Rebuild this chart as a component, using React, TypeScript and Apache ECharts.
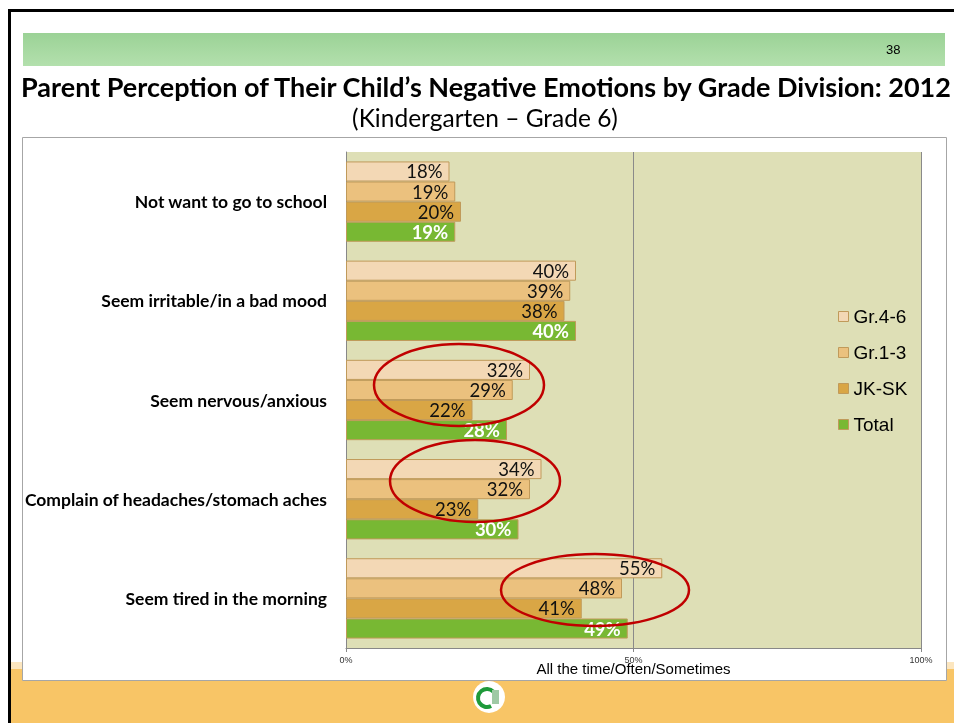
import React, { useEffect, useRef } from "react";
import * as echarts from "echarts";

const categories = [
  "Not want to go to school",
  "Seem irritable/in a bad mood",
  "Seem nervous/anxious",
  "Complain of headaches/stomach aches",
  "Seem tired in the morning",
];
const seriesNames = ["Gr.4-6", "Gr.1-3", "JK-SK", "Total"];
const gr46 = [18, 40, 32, 34, 55];
const gr13 = [19, 39, 29, 32, 48];
const jksk = [20, 38, 22, 23, 41];
const total = [19, 40, 28, 30, 49];
const xTicks = [0, 50, 100];
const colors = ["#F3D8B5", "#EBC17E", "#D9A645", "#78B833"];

export default function App() {
  const ref = useRef<HTMLDivElement>(null);
  useEffect(() => {
    if (!ref.current) return;
    const chart = echarts.init(ref.current, null, { renderer: "svg" });
    const values = [gr46, gr13, jksk, total];
    const series = seriesNames.map((name, i) => ({
      name,
      type: "bar",
      data: values[i],
      barGap: "0%",
      barCategoryGap: "19%",
      itemStyle: { color: colors[i], borderColor: "#C09A5A", borderWidth: 1 },
      label: {
        show: true,
        position: "insideRight",
        distance: 7,
        formatter: "{c}%",
        fontFamily: "Lato",
        fontSize: 18.5,
        lineHeight: 18,
        color: i === 3 ? "#FFFFFF" : "#111111",
        fontWeight: i === 3 ? "bold" : "normal",
      },
    }));
    chart.setOption({
      animation: false,
      textStyle: { fontFamily: "Liberation Sans" },
      grid: {
        left: 346,
        right: 33,
        top: 152,
        bottom: 75,
        show: true,
        backgroundColor: "#DEDFB6",
        borderWidth: 0,
        containLabel: false,
      },
      legend: {
        orient: "vertical",
        left: 833,
        top: 302,
        itemWidth: 10,
        itemHeight: 10,
        itemGap: 17,
        icon: "rect",
        data: seriesNames,
        textStyle: { fontFamily: "Liberation Sans", fontSize: 19, color: "#000" },
        itemStyle: { borderColor: "#C09A5A", borderWidth: 1 },
      },
      xAxis: {
        type: "value",
        min: 0,
        max: 100,
        interval: 50,
        name: "All the time/Often/Sometimes",
        nameLocation: "middle",
        nameGap: 13,
        nameMoveOverlap: false,
        nameTextStyle: { fontFamily: "Liberation Sans", fontSize: 15, color: "#000" },
        axisLine: { show: true, lineStyle: { color: "#888888", width: 1 } },
        axisTick: { show: true, length: 4, lineStyle: { color: "#888888" } },
        axisLabel: {
          formatter: (v: number) => (xTicks.includes(v) ? v + "%" : ""),
          fontSize: 9,
          color: "#333",
          margin: 7,
        },
        splitLine: { show: true, lineStyle: { color: "#8A8A8A", width: 1 } },
      },
      yAxis: {
        type: "category",
        data: categories,
        inverse: true,
        axisLine: { show: true, lineStyle: { color: "#888888" } },
        axisTick: { show: false },
        axisLabel: {
          fontFamily: "Lato",
          fontWeight: "bold",
          fontSize: 17.5,
          color: "#000",
          margin: 19,
        },
      },
      graphic: [
        { type: "rect", z: -20, shape: { x: 0, y: 0, width: 954, height: 723 }, style: { fill: "#FFFFFF" } },
        { type: "rect", z: -19, shape: { x: 10, y: 662, width: 944, height: 8 }, style: { fill: "#FCE6BF" } },
        { type: "rect", z: -19, shape: { x: 10, y: 669, width: 944, height: 54 }, style: { fill: "#F8C566" } },
        { type: "rect", z: -18, shape: { x: 8, y: 9, width: 3, height: 714 }, style: { fill: "#000" } },
        { type: "rect", z: -18, shape: { x: 8, y: 9, width: 946, height: 3 }, style: { fill: "#000" } },
        {
          type: "rect",
          z: -18,
          shape: { x: 23, y: 33, width: 922, height: 33 },
          style: {
            fill: new echarts.graphic.LinearGradient(0, 0, 0, 1, [
              { offset: 0, color: "#9BD296" },
              { offset: 1, color: "#B3E0AD" },
            ]),
          },
        },
        { type: "text", z: -17, x: 886, y: 43, style: { text: "38", fontFamily: "Liberation Sans", fontSize: 13, fill: "#000" } },
        {
          type: "text",
          z: -17,
          x: 486,
          y: 86,
          style: {
            text: "Parent Perception of Their Child\u2019s Negative Emotions by Grade Division: 2012",
            fontFamily: "Lato",
            fontWeight: "bold",
            fontSize: 27,
            fill: "#000",
            align: "center",
            verticalAlign: "middle",
          },
        },
        {
          type: "text",
          z: -17,
          x: 485,
          y: 117,
          style: {
            text: "(Kindergarten \u2013 Grade 6)",
            fontFamily: "Lato",
            fontSize: 24.5,
            fill: "#000",
            align: "center",
            verticalAlign: "middle",
          },
        },
        {
          type: "rect",
          z: -16,
          shape: { x: 22.5, y: 137.5, width: 924, height: 543 },
          style: { fill: "#FFFFFF", stroke: "#A6A6A6", lineWidth: 1 },
        },
        { type: "circle", z: -15, shape: { cx: 489, cy: 697, r: 16 }, style: { fill: "#FFFFFF" } },
        {
          type: "arc",
          z: -14,
          shape: { cx: 487, cy: 698, r: 9, startAngle: Math.PI * 0.35, endAngle: Math.PI * 1.75 },
          style: { stroke: "#1E9A3A", lineWidth: 4, fill: "none" },
        },
        { type: "rect", z: -14, shape: { x: 492, y: 690, width: 7, height: 14 }, style: { fill: "#9FC9A5" } },
        { type: "ellipse", z: 100, shape: { cx: 459, cy: 385, rx: 85, ry: 41 }, style: { fill: "none", stroke: "#C00000", lineWidth: 2.5 } },
        { type: "ellipse", z: 100, shape: { cx: 475, cy: 481, rx: 85, ry: 41 }, style: { fill: "none", stroke: "#C00000", lineWidth: 2.5 } },
        { type: "ellipse", z: 100, shape: { cx: 595, cy: 590, rx: 94, ry: 36 }, style: { fill: "none", stroke: "#C00000", lineWidth: 2.5 } },
      ],
      series,
    });
    return () => chart.dispose();
  }, []);
  return (
    <div
      ref={ref}
      style={{ position: "fixed", left: 0, top: 0, width: 954, height: 723 }}
    />
  );
}
